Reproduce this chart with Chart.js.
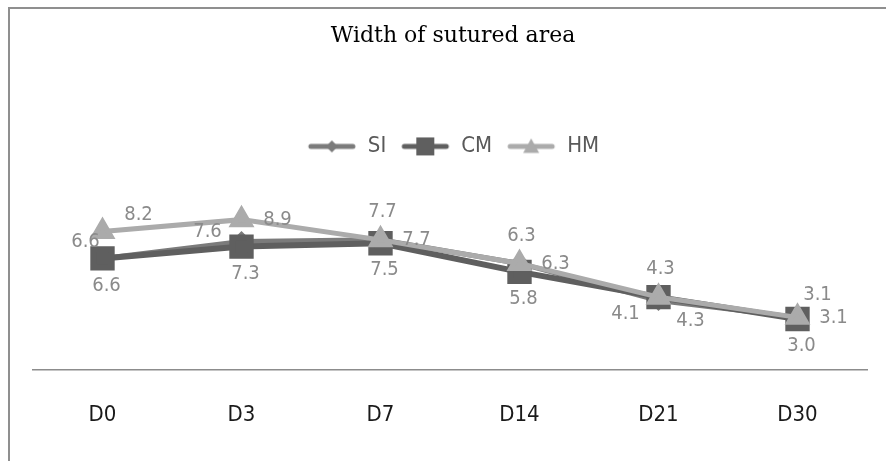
<!DOCTYPE html>
<html>
<head>
  <title>Width of sutured area</title>
  <script src="https://cdn.jsdelivr.net/npm/chart.js"></script>
  <style>
    html, body { margin: 0; padding: 0; background: #fff; }
    #wrap { position: relative; width: 886px; height: 461px; overflow: hidden; }
    #frame { position: absolute; left: 8px; top: 7px; width: 900px; height: 500px;
             border-left: 2px solid #8f8f8f; border-top: 2px solid #8f8f8f; }
    canvas { position: absolute; left: 0; top: 0; }
  </style>
</head>
<body>
  <div id="wrap">
    <div id="frame"></div>
    <canvas id="chart" width="886" height="461"></canvas>
  </div>

  <script>
    const days = ["D0", "D3", "D7", "D14", "D21", "D30"];
    const siValues = [6.6, 7.6, 7.7, 6.3, 4.1, 3.1];
    const cmValues = [6.6, 7.3, 7.5, 5.8, 4.3, 3.0];
    const hmValues = [8.2, 8.9, 7.7, 6.3, 4.3, 3.1];

    const narrow = '"Liberation Sans Narrow", "DejaVu Sans Condensed", "Roboto Condensed", sans-serif';

    // small canvas with line + marker for the legend
    function legendIcon(color, shape, size, lineW) {
      const c = document.createElement("canvas");
      c.width = 50; c.height = 24;
      const g = c.getContext("2d");
      g.strokeStyle = color; g.fillStyle = color;
      g.lineWidth = lineW; g.lineCap = "round";
      g.beginPath(); g.moveTo(4, 12); g.lineTo(46, 12); g.stroke();
      g.beginPath();
      if (shape === "diamond") {
        g.moveTo(25, 12 - size); g.lineTo(25 + size, 12); g.lineTo(25, 12 + size); g.lineTo(25 - size, 12);
      } else if (shape === "square") {
        g.rect(25 - size, 12 - size, size * 2, size * 2);
      } else {
        g.moveTo(25, 12 - size); g.lineTo(25 + size, 12 + size * 0.8); g.lineTo(25 - size, 12 + size * 0.8);
      }
      g.closePath(); g.fill();
      return c;
    }

    const offsets = {
      left: [-34, -10], lowLeft: [-33, 13], right: [36, 0], top: [2, -28], bottom: [4, 27],
      topLeft: [-17, -17], topRight: [36, -17], upRight: [20, -23], bottomRight: [32, 24]
    };

    const pointLabels = {
      id: "pointLabels",
      afterDatasetsDraw(chart) {
        const ctx = chart.ctx;
        ctx.save();
        ctx.font = "20px " + narrow;
        ctx.fillStyle = "#8a8a8a";
        ctx.textAlign = "center";
        ctx.textBaseline = "middle";
        chart.data.datasets.forEach((ds, i) => {
          chart.getDatasetMeta(i).data.forEach((pt, j) => {
            const o = offsets[ds.labelAlign[j]];
            ctx.fillText(ds.data[j].toFixed(1), pt.x + o[0], pt.y + o[1]);
          });
        });
        ctx.restore();
      }
    };

    const icons = [
      legendIcon("#7b7b7b", "diamond", 6, 5),
      legendIcon("#5f5f5f", "square", 9, 5),
      legendIcon("#ababab", "triangle", 8, 5)
    ];

    new Chart(document.getElementById("chart"), {
      type: "line",
      data: {
        labels: days,
        datasets: [
          {
            label: "SI", data: siValues, order: 2,
            borderColor: "#7b7b7b", backgroundColor: "#7b7b7b", borderWidth: 5,
            pointStyle: "rectRot", pointRadius: 7, pointHoverRadius: 7,
            labelAlign: ["topLeft", "left", "top", "top", "lowLeft", "upRight"]
          },
          {
            label: "CM", data: cmValues, order: 1,
            borderColor: "#5f5f5f", backgroundColor: "#5f5f5f", borderWidth: 6,
            pointStyle: "rect", pointRadius: 13, pointHoverRadius: 13,
            labelAlign: ["bottom", "bottom", "bottom", "bottom", "top", "bottom"]
          },
          {
            label: "HM", data: hmValues, order: 0,
            borderColor: "#ababab", backgroundColor: "#ababab", borderWidth: 5,
            pointStyle: "triangle", pointRadius: 10, pointHoverRadius: 10,
            labelAlign: ["topRight", "right", "right", "right", "bottomRight", "right"]
          }
        ]
      },
      options: {
        responsive: false,
        animation: false,
        devicePixelRatio: 1,
        layout: { padding: { top: 23, left: 33, right: 13, bottom: 33 } },
        plugins: {
          title: {
            display: true,
            text: "Width of sutured area",
            color: "#000",
            font: { family: '"DejaVu Serif", serif', size: 22, weight: "normal" },
            padding: { top: 0, bottom: 72 }
          },
          legend: {
            position: "top",
            labels: {
              usePointStyle: true,
              pointStyleWidth: 50,
              padding: 14,
              color: "#595959",
              font: { family: narrow, size: 22 },
              generateLabels(chart) {
                return chart.data.datasets.map((ds, i) => ({
                  text: ds.label, pointStyle: icons[i], datasetIndex: i,
                  fontColor: "#595959", lineWidth: 0, hidden: false
                }));
              }
            }
          },
          tooltip: { enabled: false }
        },
        scales: {
          x: {
            offset: true,
            grid: { display: false, tickLength: 32 },
            border: { display: true, color: "#8c8c8c", width: 1.5 },
            ticks: { color: "#1a1a1a", padding: 0, font: { family: narrow, size: 22 } }
          },
          y: { display: false, min: 0, max: 12 }
        }
      },
      plugins: [pointLabels]
    });
  </script>
</body>
</html>
